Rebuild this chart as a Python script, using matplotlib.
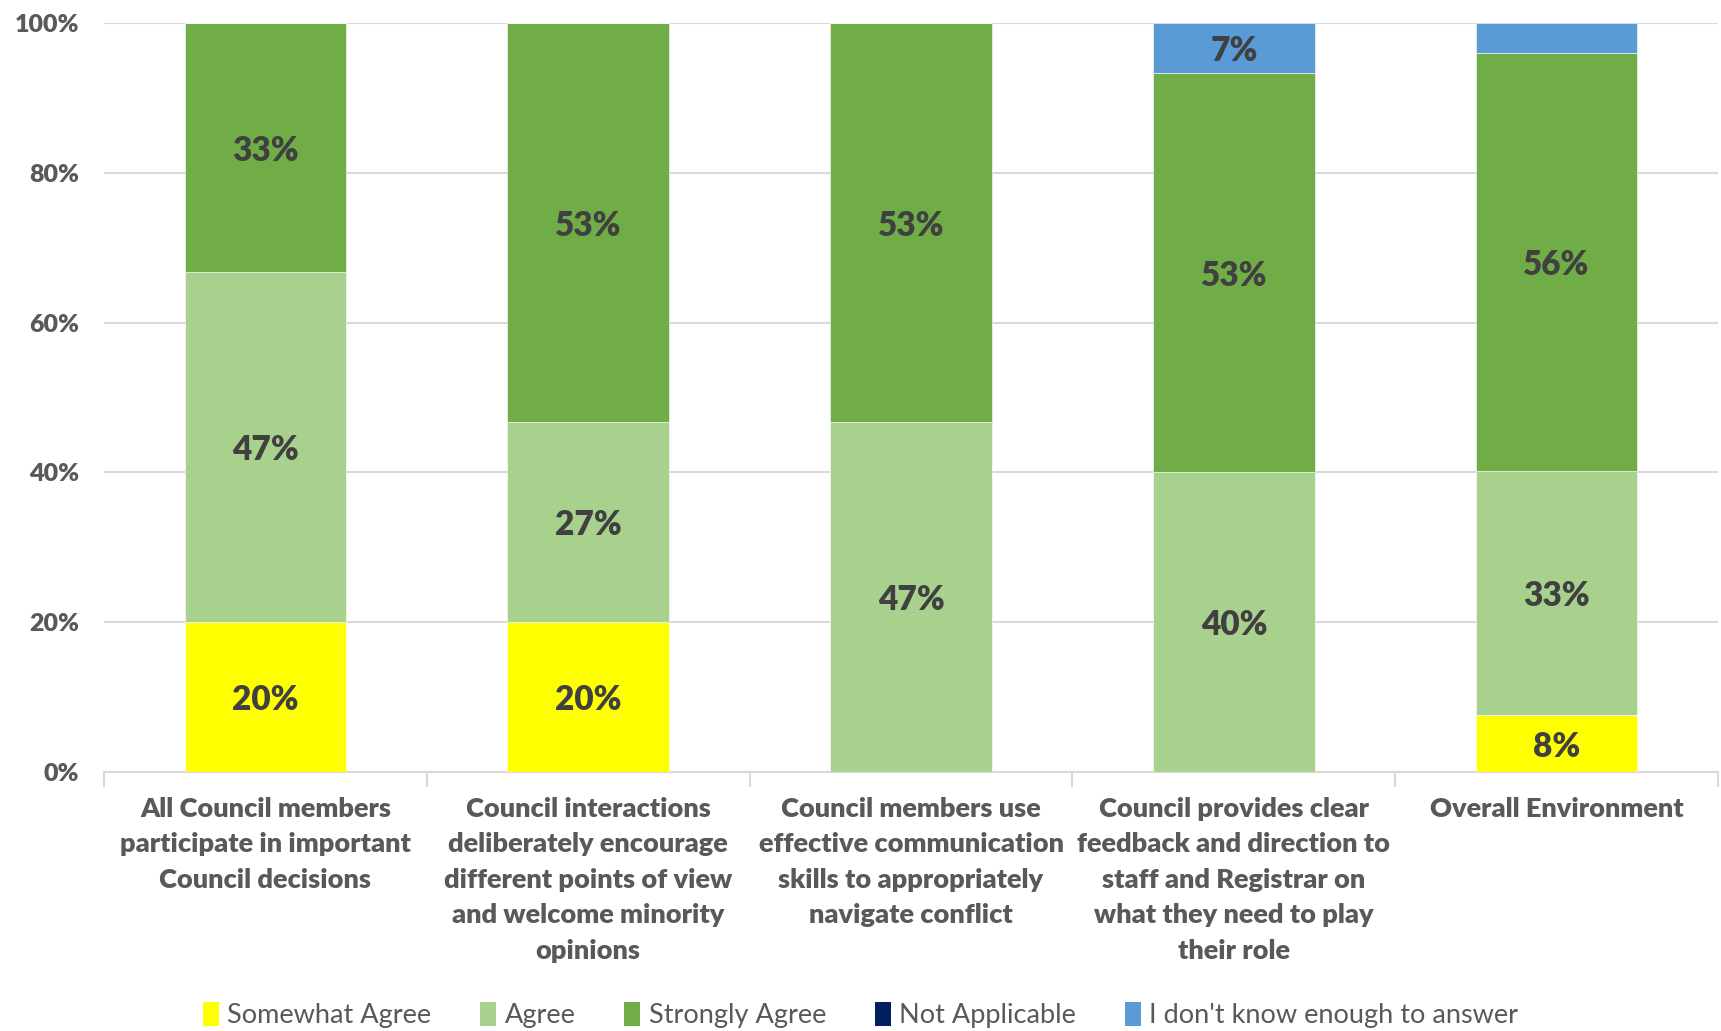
import matplotlib
matplotlib.use("Agg")
import matplotlib.pyplot as plt
import numpy as np
from matplotlib.patches import Patch

categories = [
    "All Council members\nparticipate in important\nCouncil decisions",
    "Council interactions\ndeliberately encourage\ndifferent points of view\nand welcome minority\nopinions",
    "Council members use\neffective communication\nskills to appropriately\nnavigate conflict",
    "Council provides clear\nfeedback and direction to\nstaff and Registrar on\nwhat they need to play\ntheir role",
    "Overall Environment",
]
series_names = ["Somewhat Agree", "Agree", "Strongly Agree", "Not Applicable",
                "I don't know enough to answer"]
somewhat_agree = [20.0, 20.0, 0.0, 0.0, 7.6]
agree = [46.7, 26.7, 46.7, 40.0, 32.6]
strongly_agree = [33.3, 53.3, 53.3, 53.3, 55.8]
not_applicable = [0.0, 0.0, 0.0, 0.0, 0.0]
dont_know = [0.0, 0.0, 0.0, 6.7, 4.0]
# segments that carry a value label (the small "don't know" slice of the last bar has none)
labelled_dont_know = [False, False, False, True, False]

colors = ["#FFFF00", "#A9D18E", "#70AD47", "#002060", "#5B9BD5"]
series = [somewhat_agree, agree, strongly_agree, not_applicable, dont_know]

FONT = "Lato"
HEAVY = 800

fig = plt.figure(figsize=(17.21, 10.31), dpi=100)
ax = fig.add_axes([0.0604, 0.2512, 0.9379, 0.7265])

x = np.arange(len(categories))
bottom = np.zeros(len(categories))
for si, (vals, col) in enumerate(zip(series, colors)):
    vals = np.array(vals)
    ax.bar(x, vals, width=0.5, bottom=bottom, color=col, edgecolor="#FFFFFF",
           linewidth=0.4, zorder=3)
    for i, v in enumerate(vals):
        if v <= 0:
            continue
        if si == 4 and not labelled_dont_know[i]:
            continue
        ax.text(x[i], bottom[i] + v / 2, f"{int(round(v))}%", ha="center",
                va="center_baseline", fontsize=24, fontweight=HEAVY,
                color="#404040", family=FONT, zorder=4)
    bottom += vals

ax.set_xlim(-0.5, len(categories) - 0.5)
ax.set_ylim(0, 100)
ax.set_yticks([0, 20, 40, 60, 80, 100])
ax.set_yticklabels([f"{t}%" for t in [0, 20, 40, 60, 80, 100]])
ax.yaxis.grid(True, color="#D9D9D9", linewidth=1.5, zorder=0)
ax.set_axisbelow(True)
for s in ["top", "right", "left"]:
    ax.spines[s].set_visible(False)
ax.spines["bottom"].set_color("#D9D9D9")
ax.spines["bottom"].set_linewidth(1.5)
ax.tick_params(axis="y", length=0, pad=18, labelsize=18, labelcolor="#595959")
for lbl in ax.get_yticklabels():
    lbl.set_fontweight(HEAVY)
    lbl.set_family(FONT)

# category labels as major ticks without marks; boundary marks as minor ticks
ax.set_xticks(x)
ax.set_xticklabels(categories)
ax.tick_params(axis="x", which="major", length=0, pad=18, labelsize=19.5,
               labelcolor="#595959")
for lbl in ax.get_xticklabels():
    lbl.set_fontweight(HEAVY)
    lbl.set_family(FONT)
    lbl.set_verticalalignment("top")
    lbl.set_linespacing(1.57)
ax.set_xticks(np.arange(-0.5, len(categories)), minor=True)
ax.tick_params(axis="x", which="minor", length=11, width=1.5, color="#D9D9D9")

handles = [Patch(facecolor=c, edgecolor="none") for c in colors]
leg = fig.legend(handles, series_names, loc="center", ncol=5,
                 bbox_to_anchor=(0.5, 0.0155), frameon=False,
                 prop={"family": FONT, "size": 19.5},
                 handlelength=0.6, handleheight=1.0, handletextpad=0.3,
                 columnspacing=1.8, labelcolor="#595959")

fig.savefig("out.png", dpi=100, facecolor="white")
